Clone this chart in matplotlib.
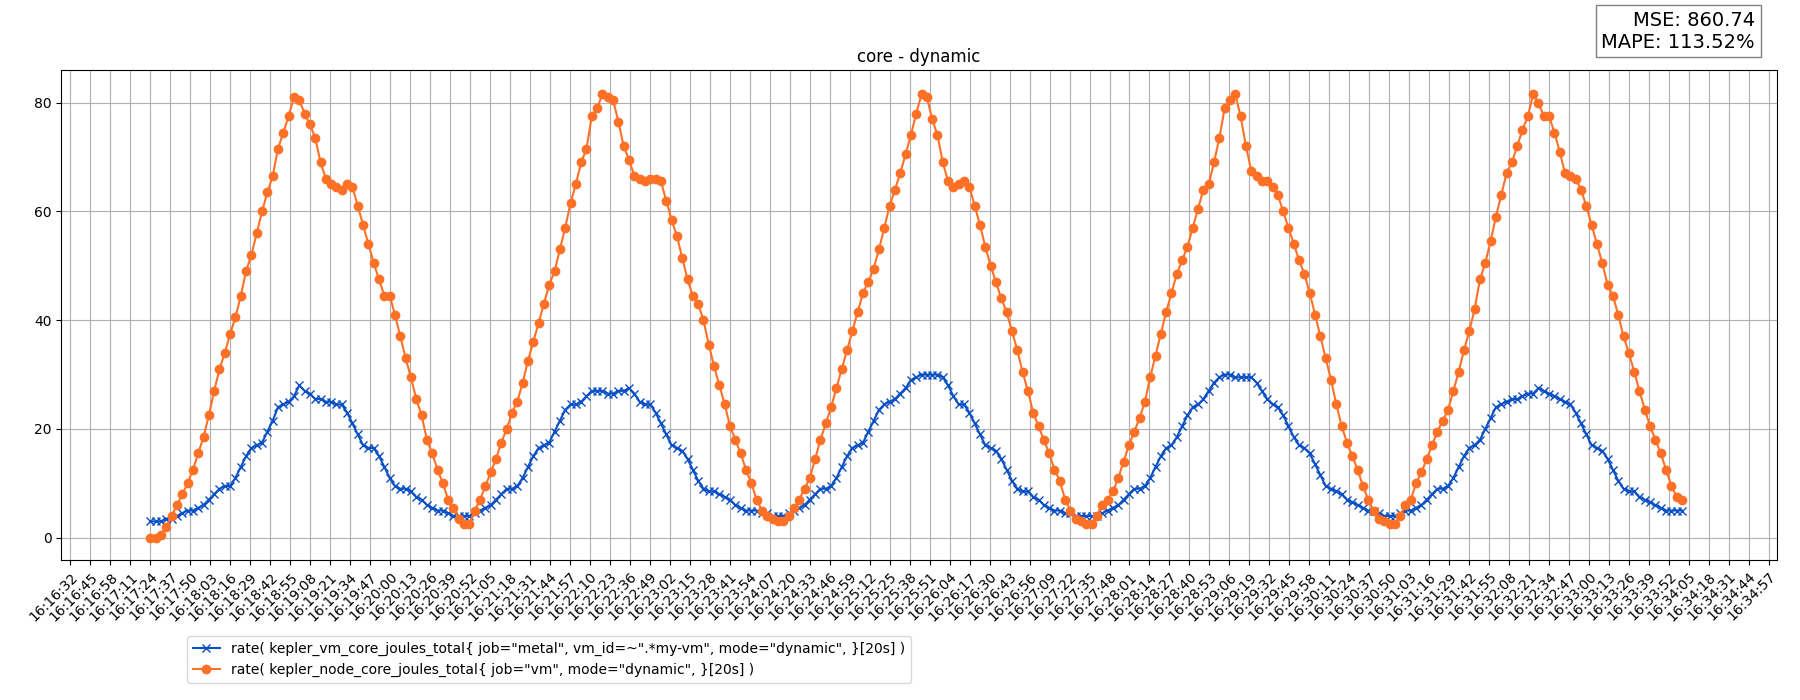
import datetime as dt

import matplotlib

matplotlib.use("Agg")
import matplotlib.dates as mdates
import matplotlib.pyplot as plt

# sampled values, one per scrape (start 16:17:24, ~3.46 s apart)
node_core = [
    # cycle 1
    0, 0, 0.5, 2, 4, 6, 8, 10, 12.5, 15.5, 18.5, 22.5, 27, 31, 34, 37.5, 40.5, 44.5, 49, 52,
    56, 60, 63.5, 66.5, 71.5, 74.5, 77.5, 81,
    80.5, 78, 76, 73.5, 69, 66, 65, 64.5, 64, 65, 64.5, 61, 57.5, 54, 50.5, 47.5, 44.5, 44.5,
    41, 37, 33, 29.5, 25.5, 22.5, 18, 15.5, 12.5, 10, 7, 5.5, 3.5, 2.5,
    # cycle 2
    2.5, 5, 7, 9.5, 12, 14.5, 17.5, 20, 23, 25, 28.5, 32.5, 36, 39.5, 43, 46.5, 49, 53, 57,
    61.5, 65, 69, 71.5, 77.5, 79, 81.5,
    81, 80.5, 76.5, 72, 69.5, 66.5, 66, 65.5, 66, 66, 65.5, 62, 58.5, 55.5, 51.5, 47.5, 44.5,
    43, 40, 35.5, 31.5, 28, 24.5, 20.5, 18, 15.5, 12.5, 10, 7, 5, 4, 3.5, 3,
    # cycle 3
    3, 4, 5.5, 7, 9, 11, 14.5, 18, 21, 24, 27.5, 31, 34.5, 38, 41.5, 45, 47, 49.5, 53, 57, 61,
    64, 67, 70.5, 74, 78, 81.5,
    81, 77, 74, 69, 65.5, 64.5, 65, 65.5, 64.5, 61, 57.5, 53.5, 50, 47, 44, 41.5, 38, 34.5,
    30.5, 27, 23, 20.5, 18, 15.5, 12.5, 10.5, 7, 5, 3.5, 3, 2.5,
    # cycle 4
    2.5, 4, 6, 7, 8.5, 11, 14, 17, 19.5, 22, 25, 29.5, 33.5, 37.5, 41.5, 45, 48.5, 51, 53.5,
    57, 60.5, 64, 65, 69, 73.5, 79, 80.5, 81.5,
    77.5, 72, 67.5, 66.5, 65.5, 65.5, 64.5, 63, 60, 57, 54, 51, 48.5, 45, 41, 37, 33, 29,
    24.5, 20.5, 17.5, 15, 12.5, 9.5, 7, 5, 3.5, 3, 2.5,
    # cycle 5
    2.5, 4, 6, 7, 10, 12, 14.5, 17, 19.5, 21.5, 23.5, 27, 30.5, 34.5, 38, 42, 47.5, 50.5,
    54.5, 59, 63, 67, 69, 72, 75, 77.5, 81.5,
    80, 77.5, 77.5, 74.5, 71, 67, 66.5, 66, 64, 61, 57.5, 54, 50.5, 46.5, 44.5, 41, 37, 34,
    30.5, 27, 23.5, 20.5, 18, 15.5, 12.5, 9.5, 7.5, 7,
]

vm_core = [
    # cycle 1
    3, 3, 3, 3.5, 3.5, 4, 4.5, 5, 5, 5.5, 6, 7, 8, 9, 9.5, 9.5, 11, 13, 15, 16.5, 17, 17.5,
    19.5, 21.5, 24, 24.5, 25, 26,
    28, 27, 26.5, 25.5, 25.5, 25, 25, 24.5, 24.5, 23, 21, 19, 17, 16.5, 16.5, 15, 13, 11, 9.5,
    9, 9, 8.5, 7.5, 7, 6, 5.5, 5, 5, 4.5, 4, 4, 4,
    # cycle 2
    4, 4.5, 5, 5.5, 6, 7, 8, 9, 9, 9.5, 11, 13, 15, 16.5, 17, 17.5, 19.5, 21.5, 23.5, 24.5,
    24.5, 25, 26, 27, 27, 27,
    26.5, 26.5, 27, 27, 27.5, 26.5, 25, 24.5, 24.5, 23, 21, 19, 17, 16.5, 16, 14.5, 12.5,
    10.5, 9, 8.5, 8.5, 8, 7.5, 7, 6, 5.5, 5, 5, 5, 4.5, 4.5, 4, 4,
    # cycle 3
    4, 4.5, 5, 5.5, 6, 7, 8, 9, 9, 9.5, 11, 13, 15, 16.5, 17, 17.5, 19.5, 21.5, 23.5, 24.5,
    25, 25.5, 26.5, 27.5, 29, 29.5, 30,
    30, 30, 30, 29.5, 28, 26, 24.5, 24.5, 23, 21, 19, 17, 16.5, 16, 14.5, 12.5, 10.5, 9, 8.5,
    8.5, 7.5, 7, 6, 5.5, 5, 5, 4.5, 4.5, 4, 4, 4,
    # cycle 4
    4, 4, 4.5, 5, 5.5, 6, 7, 8, 9, 9, 9.5, 11, 13, 15, 16.5, 17, 18.5, 20.5, 22.5, 24, 24.5,
    25.5, 27, 28.5, 29.5, 30, 30, 29.5,
    29.5, 29.5, 29.5, 28.5, 27, 25.5, 24.5, 24, 22.5, 20.5, 18.5, 17, 16.5, 15.5, 13.5, 11.5,
    9.5, 9, 8.5, 8, 7, 6.5, 6, 5.5, 5, 5, 4.5, 4, 4,
    # cycle 5
    4, 4.5, 5, 5, 5.5, 6, 7, 8, 9, 9, 9.5, 11, 13, 15, 16.5, 17, 18, 20, 22, 24, 24.5, 25,
    25.5, 25.5, 26, 26.5, 26.5,
    27.5, 27, 26.5, 26, 25.5, 25, 24.5, 23, 21, 19, 17, 16.5, 16, 14.5, 12.5, 10.5, 9, 8.5,
    8.5, 7.5, 7, 6.5, 6, 5.5, 5, 5, 5, 5,
]

vm_label = 'rate( kepler_vm_core_joules_total{ job="metal", vm_id=~".*my-vm", mode="dynamic", }[20s] )'
node_label = 'rate( kepler_node_core_joules_total{ job="vm", mode="dynamic", }[20s] )'
mse = 860.74
mape = 113.52

day = dt.datetime(2024, 1, 1)
start = day.replace(hour=16, minute=17, second=24)
step = dt.timedelta(seconds=3.46)
times = [start + i * step for i in range(len(node_core))]

tick_start = day.replace(hour=16, minute=16, second=32)
ticks = [tick_start + dt.timedelta(seconds=13 * i) for i in range(86)]

fig = plt.figure(figsize=(18, 7), dpi=100)
ax = fig.add_axes([0.034, 0.2, 0.953, 0.7])
ax.plot(times, vm_core, color="#0a4fc4", marker="x", markersize=6, linewidth=1.5, label=vm_label)
ax.plot(times, node_core, color="#ff7027", marker="o", markersize=6, linewidth=1.5, label=node_label)

ax.set_xticks(ticks)
ax.xaxis.set_major_formatter(mdates.DateFormatter("%H:%M:%S"))
plt.setp(ax.get_xticklabels(), rotation=45, ha="right", rotation_mode="anchor")
ax.set_xlim(tick_start - dt.timedelta(seconds=6), ticks[-1] + dt.timedelta(seconds=5))
ax.set_ylim(-4.1, 86)
ax.grid(True, color="#b0b0b0")
ax.set_axisbelow(True)
ax.set_title("core - dynamic")

fig.legend(loc="lower left", bbox_to_anchor=(0.1, 0.015))
fig.text(0.975, 0.985, f"MSE: {mse:.2f}\nMAPE: {mape:.2f}%", ha="right", va="top",
         fontsize=14, multialignment="right",
         bbox=dict(boxstyle="square,pad=0.3", facecolor="white", edgecolor="gray"))

fig.savefig("out.png", dpi=100)
